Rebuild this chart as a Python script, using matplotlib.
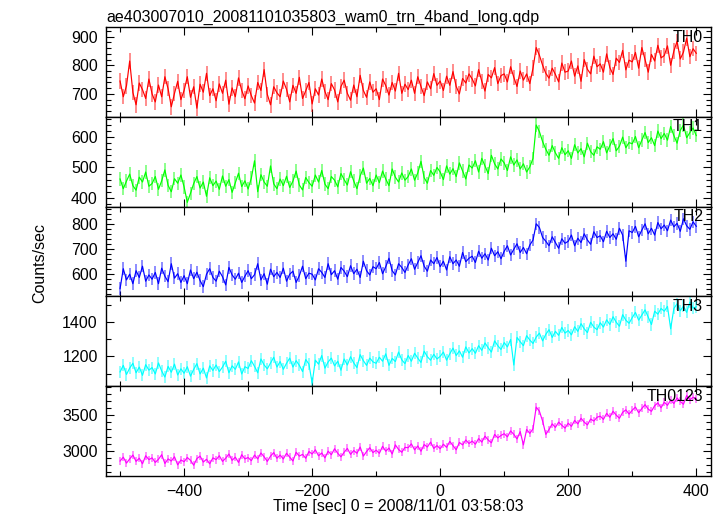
import matplotlib
matplotlib.use('Agg')
import matplotlib.pyplot as plt
import numpy as np
from matplotlib.ticker import MultipleLocator

plt.rcParams['font.family'] = ['Liberation Sans', 'DejaVu Sans']

TITLE = 'ae403007010_20081101035803_wam0_trn_4band_long.qdp'
XLABEL = 'Time [sec] 0 = 2008/11/01 03:58:03'
YLABEL = 'Counts/sec'

# 5 s bins from -500 s to 400 s
TIME = np.arange(-500, 401, 5)

TH0 = [
    745, 690, 728, 815, 705, 662, 738, 715, 684, 752,
    700, 672, 731, 690, 760, 718, 655, 702, 744, 680,
    712, 760, 688, 725, 650, 734, 706, 772, 694, 718,
    676, 735, 702, 748, 664, 721, 690, 756, 712, 683,
    728, 694, 668, 740, 712, 785, 698, 662, 725, 704,
    690, 745, 716, 672, 730, 702, 758, 684, 711, 740,
    665, 718, 696, 752, 708, 680, 736, 714, 672, 726,
    748, 702, 678, 731, 690, 765, 712, 688, 742, 706,
    718, 680, 752, 729, 696, 740, 710, 772, 702, 734,
    715, 748, 702, 760, 726, 694, 742, 718, 771, 730,
    745, 712, 762, 730, 778, 726, 700, 754, 738, 770,
    752, 728, 785, 744, 710, 768, 756, 792, 736, 764,
    770, 742, 795, 758, 726, 780, 748, 770, 736, 790,
    862, 835, 800, 772, 755, 790, 768, 742, 808, 776,
    780, 815, 762, 798, 744, 820, 786, 770, 832, 795,
    805, 776, 840, 792, 768, 825, 810, 852, 784, 818,
    812, 845, 790, 862, 820, 776, 838, 815, 870, 826,
    834, 868, 800, 850, 884, 822, 846, 895, 830, 858,
    842,
]

TH1 = [
    462, 430, 455, 478, 440, 425, 468, 452, 485, 438,
    447, 470, 428, 456, 492, 441, 420, 463, 448, 475,
    436, 385, 415, 447, 470, 432, 452, 405, 466, 440,
    455, 428, 472, 438, 460, 418, 450, 481, 437, 456,
    429, 465, 522, 420, 476, 452, 438, 505, 446, 430,
    462, 440, 471, 434, 455, 488, 442, 426, 467, 450,
    438, 475, 452, 490, 445, 430, 470, 458, 436, 480,
    460, 442, 486, 455, 430, 472, 498, 448, 464, 440,
    475, 450, 488, 462, 440, 495, 468, 452, 482, 458,
    470, 495, 458, 482, 520, 466, 448, 490, 474, 500,
    485, 460, 505, 478, 496, 470, 515, 488, 462, 508,
    498, 522, 485, 530, 505, 480, 540, 512, 495, 528,
    515, 490, 535, 508, 525, 495, 512, 485, 502, 530,
    640, 618, 585, 560, 540, 572, 548, 530, 565, 542,
    555, 530, 575, 548, 562, 535, 580, 552, 540, 568,
    560, 585, 548, 572, 595, 555, 570, 600, 565, 582,
    578, 602, 565, 590, 615, 582, 598, 572, 620, 595,
    612, 590, 635, 605, 580, 622, 640, 598, 615, 630,
    605,
]

TH2 = [
    540, 620, 575, 598, 560, 612, 585, 630, 570, 595,
    578, 605, 560, 622, 590, 568, 640, 582, 600, 565,
    592, 560, 615, 580, 606, 572, 548, 598, 620, 585,
    570, 610, 588, 555, 625, 595, 578, 602, 565, 590,
    612, 580, 596, 640, 575, 600, 558, 618, 588, 605,
    585, 622, 570, 598, 610, 565, 592, 630, 580, 602,
    598, 575, 620, 605, 585, 640, 596, 612, 578, 625,
    610, 588, 632, 600, 618, 585, 650, 612, 595, 628,
    620, 645, 600, 628, 662, 612, 595, 640, 625, 605,
    635, 660, 618, 645, 672, 630, 610, 655, 640, 665,
    628, 650, 615, 668, 640, 655, 630, 685, 648, 662,
    670, 645, 690, 662, 680, 655, 702, 672, 688, 660,
    690, 712, 675, 698, 720, 685, 705, 680, 715, 735,
    800, 785, 745, 730, 712, 748, 725, 702, 740, 722,
    730, 755, 712, 742, 725, 760, 735, 718, 768, 745,
    752, 728, 770, 745, 760, 738, 782, 755, 650, 772,
    765, 790, 748, 775, 800, 760, 782, 755, 805, 780,
    795, 772, 815, 788, 802, 770, 820, 792, 778, 808,
    790,
]

TH3 = [
    1110, 1148, 1095, 1132, 1160, 1105, 1138, 1090, 1152, 1120,
    1135, 1098, 1162, 1115, 1080, 1142, 1108, 1155, 1092, 1128,
    1102, 1140, 1085, 1125, 1158, 1098, 1132, 1075, 1145, 1118,
    1150, 1112, 1138, 1172, 1105, 1145, 1125, 1168, 1098, 1140,
    1130, 1175, 1142, 1105, 1185, 1150, 1128, 1162, 1195, 1138,
    1170, 1125, 1160, 1190, 1138, 1175, 1148, 1112, 1182, 1155,
    1045, 1178, 1155, 1205, 1132, 1168, 1190, 1145, 1172, 1120,
    1185, 1150, 1198, 1162, 1135, 1210, 1175, 1148, 1190, 1168,
    1160, 1195, 1172, 1215, 1148, 1188, 1170, 1225, 1180, 1158,
    1205, 1172, 1218, 1190, 1165, 1230, 1198, 1178, 1212, 1185,
    1200, 1225, 1178, 1215, 1248, 1205, 1232, 1195, 1255, 1220,
    1245, 1218, 1262, 1235, 1278, 1250, 1225, 1290, 1262, 1240,
    1280, 1255, 1298, 1150, 1310, 1285, 1262, 1320, 1295, 1275,
    1312, 1335, 1290, 1328, 1355, 1310, 1345, 1322, 1368, 1335,
    1350, 1325, 1372, 1345, 1390, 1360, 1338, 1398, 1370, 1355,
    1395, 1370, 1412, 1385, 1430, 1398, 1375, 1442, 1410, 1392,
    1425, 1455, 1410, 1440, 1470, 1428, 1385, 1462, 1445, 1478,
    1462, 1490, 1360, 1478, 1505, 1465, 1492, 1455, 1515, 1480,
    1488,
]

TH0123 = [
    2850, 2905, 2820, 2880, 2935, 2845, 2890, 2810, 2925, 2870,
    2895, 2830, 2875, 2940, 2815, 2880, 2850, 2910, 2795, 2865,
    2840, 2900, 2860, 2790, 2885, 2920, 2835, 2875, 2810, 2895,
    2870, 2925, 2845, 2890, 2950, 2860, 2905, 2830, 2940, 2880,
    2900, 2855, 2935, 2880, 2965, 2910, 2845, 2920, 2970, 2890,
    2935, 2880, 2960, 2905, 2850, 2975, 2920, 2945, 2890, 2985,
    2950, 3010, 2925, 2965, 2895, 2990, 2940, 3025, 2960, 2910,
    2975, 3030, 2945, 3000, 2960, 3050, 2920, 2985, 3040, 2970,
    3005, 2960, 3060, 2990, 3035, 2950, 3080, 3015, 2975, 3045,
    3040, 3095, 3010, 3065, 2990, 3085, 3050, 3120, 3030, 3070,
    3025, 3090, 3045, 3130, 3070, 3010, 3115, 3080, 3150, 3100,
    3135, 3090, 3170, 3120, 3205, 3150, 3110, 3230, 3180, 3215,
    3240, 3195, 3280, 3230, 3165, 3270, 3080, 3300, 3245, 3310,
    3620, 3560, 3420, 3230, 3300, 3380, 3330, 3405, 3360, 3320,
    3390, 3345, 3430, 3380, 3460, 3405, 3365, 3450, 3420, 3475,
    3490, 3445, 3530, 3475, 3560, 3505, 3460, 3545, 3580, 3520,
    3575, 3620, 3540, 3600, 3655, 3590, 3560, 3640, 3680, 3610,
    3690, 3645, 3720, 3670, 3750, 3700, 3660, 3785, 3725, 3760,
    3740,
]

BANDS = ['TH0', 'TH1', 'TH2', 'TH3', 'TH0123']
RATES = [TH0, TH1, TH2, TH3, TH0123]
ERRS = [27, 22, 25, 35, 57]

COLORS = ['#ff0000', '#00ff00', '#0000ff', '#00ffff', '#ff00ff']
YLIMS = [(620, 934), (371, 667), (509, 869), (1027, 1548), (2636, 3918)]
MAJOR = [100, 100, 100, 200, 500]
MINOR = [20, 20, 20, 100, 100]

fig, axes = plt.subplots(5, 1, sharex=True, figsize=(7.23, 5.16), dpi=100)
fig.subplots_adjust(left=0.1466, right=0.9834, top=0.9477, bottom=0.0775, hspace=0)

for i, ax in enumerate(axes):
    y = np.array(RATES[i], dtype=float)
    # light error bars under the rate curve, like the qdp output
    ax.errorbar(TIME, y, yerr=ERRS[i], fmt='none', ecolor=COLORS[i],
                elinewidth=1.4, alpha=0.45)
    ax.plot(TIME, y, color=COLORS[i], lw=0.85)
    ax.set_ylim(*YLIMS[i])
    ax.set_xlim(-522, 423)
    ax.yaxis.set_major_locator(MultipleLocator(MAJOR[i]))
    ax.yaxis.set_minor_locator(MultipleLocator(MINOR[i]))
    ax.xaxis.set_major_locator(MultipleLocator(200))
    ax.xaxis.set_minor_locator(MultipleLocator(100))
    ax.tick_params(which='both', direction='in', top=True, right=True,
                   labelsize=11.5, width=0.8, pad=6)
    ax.tick_params(which='major', length=6)
    ax.tick_params(which='minor', length=3.5)
    for sp in ax.spines.values():
        sp.set_linewidth(1.0)
    ax.text(0.987, 0.97, BANDS[i], transform=ax.transAxes, ha='right',
            va='top', fontsize=11.5)

axes[0].set_title(TITLE, loc='left', fontsize=11.5, pad=4)
axes[-1].set_xlabel(XLABEL, fontsize=11.5)
axes[-1].xaxis.set_label_coords(0.483, -0.255)
fig.text(0.055, 0.49, YLABEL, rotation=90, ha='center', va='center', fontsize=11.5)

plt.savefig('out.png', dpi=100)
